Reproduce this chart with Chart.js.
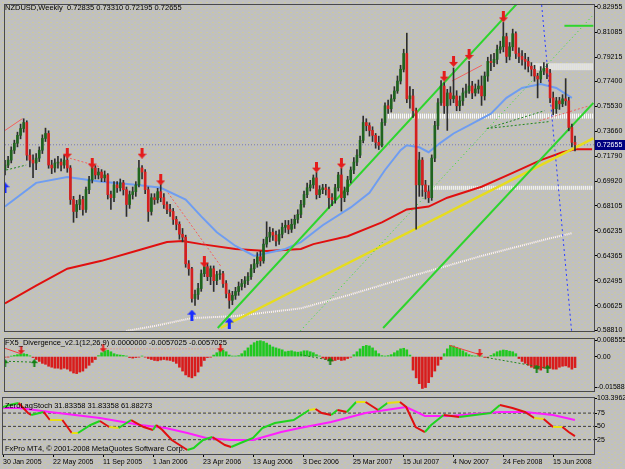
<!DOCTYPE html>
<html>
<head>
<meta charset="utf-8">
<script src="https://cdn.jsdelivr.net/npm/chart.js@4.4.0/dist/chart.umd.min.js"></script>
<style>
html, body { margin: 0; padding: 0; }
body {
  width: 625px; height: 469px; overflow: hidden; position: relative;
  background-color: #c0c0c0;
  background-image:
    radial-gradient(circle, rgba(218,214,110,0.55) 0.45px, transparent 0.8px),
    radial-gradient(circle, rgba(218,214,110,0.45) 0.45px, transparent 0.8px);
  background-size: 6px 5px, 6px 5px;
  background-position: 0 0, 3px 2px;
  font-family: "Liberation Sans", Arial, sans-serif;
}
canvas { position: absolute; left: 0; }
#main { top: 0; }
#divg { top: 334px; }
#stoch { top: 392px; }
.lbl { position: absolute; font-size: 7.5px; color: #000; white-space: pre; line-height: 9px; }
</style>
</head>
<body>
<canvas id="main" width="625" height="336"></canvas>
<canvas id="divg" width="625" height="62"></canvas>
<canvas id="stoch" width="625" height="77"></canvas>
<div class="lbl" style="left:5px;top:3px">NZDUSD,Weekly  0.72835 0.73310 0.72195 0.72655</div>
<div class="lbl" style="left:5px;top:338px">FX5_Divergence_v2.1(12,26,9) 0.0000000 -0.0057025 -0.0057025</div>
<div class="lbl" style="left:5px;top:401px">ZeroLagStoch 31.83358 31.83358 61.88273</div>
<div class="lbl" style="left:5px;top:444px">FxPro MT4, © 2001-2008 MetaQuotes Software Corp.</div>
<script>
// ---- weekly NZDUSD bars, 30 Jan 2005 .. Jul 2008 ----
const firstOpen = 0.7080;
const closes = [
  0.7114,0.7151,0.7225,0.7277,0.7336,0.7387,0.7432,0.7188,0.7151,0.7129,
  0.7166,0.7225,0.7313,0.7350,0.7114,0.7092,0.7129,0.7136,0.7114,0.7151,
  0.7092,0.6856,0.6767,0.6819,0.6856,0.6782,0.6930,0.7003,0.7092,0.7040,
  0.7062,0.7018,0.7040,0.6893,0.6870,0.6966,0.6944,0.6981,0.6930,0.6819,
  0.6893,0.6915,0.6966,0.7092,0.7062,0.6930,0.6767,0.6870,0.6856,0.6915,
  0.6870,0.6819,0.6782,0.6767,0.6708,0.6671,0.6597,0.6575,0.6376,0.6339,
  0.6117,0.6147,0.6191,0.6302,0.6354,0.6280,0.6339,0.6250,0.6295,0.6302,
  0.6228,0.6154,0.6103,0.6140,0.6169,0.6206,0.6228,0.6250,0.6280,0.6339,
  0.6376,0.6428,0.6398,0.6523,0.6575,0.6612,0.6590,0.6546,0.6597,0.6649,
  0.6664,0.6634,0.6671,0.6708,0.6745,0.6819,0.6893,0.6944,0.6966,0.7018,
  0.6893,0.6930,0.6944,0.6930,0.6870,0.6856,0.6944,0.7040,0.6870,0.6915,
  0.7003,0.7077,0.7136,0.7188,0.7299,0.7432,0.7409,0.7373,0.7336,0.7284,
  0.7262,0.7432,0.7557,0.7535,0.7609,0.7668,0.7742,0.7830,0.7948,0.7609,
  0.7631,0.7520,0.6966,0.7151,0.6966,0.6915,0.6870,0.7166,0.7409,0.7579,
  0.7705,0.7557,0.7653,0.7609,0.7631,0.7557,0.7594,0.7653,0.7668,0.7705,
  0.7653,0.7683,0.7705,0.7631,0.7779,0.7889,0.7880,0.7904,0.7978,0.7998,
  0.8074,0.7926,0.7998,0.8096,0.7948,0.7926,0.7904,0.7889,0.7853,0.7830,
  0.7779,0.7757,0.7816,0.7838,0.7801,0.7616,0.7535,0.7594,0.7572,0.7609,
  0.7594,0.7395,0.72835,0.72655
];
const highs = [
  0.7150,0.7180,0.7250,0.7300,0.7360,0.7420,0.7460,0.7445,0.7230,0.7190,
  0.7200,0.7250,0.7340,0.7390,0.7370,0.7150,0.7160,0.7180,0.7160,0.7190,
  0.7170,0.7110,0.6880,0.6850,0.6890,0.6880,0.6950,0.7030,0.7110,0.7110,
  0.7090,0.7080,0.7070,0.7050,0.6920,0.6990,0.6990,0.7010,0.7000,0.6950,
  0.6920,0.6950,0.6990,0.7150,0.7110,0.7080,0.6950,0.6900,0.6900,0.6940,
  0.6970,0.6900,0.6840,0.6820,0.6790,0.6730,0.6690,0.6640,0.6590,0.6400,
  0.6350,0.6180,0.6230,0.6330,0.6375,0.6380,0.6360,0.6360,0.6320,0.6330,
  0.6320,0.6250,0.6180,0.6170,0.6200,0.6240,0.6260,0.6280,0.6310,0.6370,
  0.6410,0.6460,0.6470,0.6560,0.6690,0.6650,0.6640,0.6620,0.6630,0.6680,
  0.6700,0.6700,0.6710,0.6740,0.6780,0.6850,0.6920,0.6980,0.7000,0.7040,
  0.7060,0.6960,0.6970,0.6970,0.6950,0.6900,0.6970,0.7060,0.7090,0.6950,
  0.7030,0.7100,0.7170,0.7230,0.7330,0.7480,0.7460,0.7430,0.7400,0.7350,
  0.7330,0.7460,0.7580,0.7600,0.7640,0.7700,0.7780,0.7860,0.7980,0.8100,
  0.7700,0.7680,0.7540,0.7210,0.7170,0.7000,0.6960,0.7190,0.7440,0.7610,
  0.7745,0.7730,0.7680,0.7700,0.7840,0.7670,0.7630,0.7690,0.7720,0.7890,
  0.7740,0.7720,0.7750,0.7780,0.7810,0.7920,0.7940,0.7950,0.8010,0.8040,
  0.8180,0.8100,0.8030,0.8130,0.8110,0.7990,0.7970,0.7950,0.7920,0.7880,
  0.7860,0.7800,0.7850,0.7880,0.7870,0.7830,0.7660,0.7620,0.7620,0.7640,
  0.7760,0.7620,0.7420,0.7331
];
const lows = [
  0.7040,0.7095,0.7130,0.7200,0.7250,0.7310,0.7360,0.7150,0.7100,0.7020,
  0.7080,0.7140,0.7200,0.7290,0.7090,0.7050,0.7060,0.7090,0.7070,0.7090,
  0.7060,0.6820,0.6686,0.6720,0.6780,0.6740,0.6760,0.6900,0.6980,0.7010,
  0.7010,0.6990,0.6990,0.6860,0.6782,0.6840,0.6910,0.6920,0.6890,0.6730,
  0.6790,0.6860,0.6880,0.6950,0.7010,0.6900,0.6693,0.6740,0.6820,0.6830,
  0.6840,0.6790,0.6750,0.6730,0.6670,0.6630,0.6560,0.6540,0.6350,0.6290,
  0.6090,0.6065,0.6110,0.6170,0.6280,0.6250,0.6220,0.6169,0.6220,0.6260,
  0.6200,0.6120,0.6043,0.6070,0.6110,0.6140,0.6180,0.6200,0.6220,0.6260,
  0.6310,0.6350,0.6360,0.6380,0.6500,0.6540,0.6550,0.6510,0.6520,0.6570,
  0.6610,0.6600,0.6610,0.6640,0.6680,0.6720,0.6800,0.6870,0.6920,0.6940,
  0.6860,0.6870,0.6900,0.6890,0.6790,0.6810,0.6830,0.6920,0.6770,0.6840,
  0.6890,0.6980,0.7050,0.7110,0.7170,0.7280,0.7370,0.7330,0.7290,0.7240,
  0.7230,0.7250,0.7410,0.7500,0.7510,0.7590,0.7650,0.7720,0.7810,0.7580,
  0.7540,0.7470,0.6634,0.6880,0.6880,0.6860,0.6834,0.6850,0.7140,0.7380,
  0.7560,0.7500,0.7373,0.7560,0.7580,0.7520,0.7520,0.7560,0.7620,0.7650,
  0.7610,0.7630,0.7650,0.7560,0.7600,0.7740,0.7820,0.7850,0.7870,0.7950,
  0.7960,0.7880,0.7900,0.7970,0.7910,0.7880,0.7860,0.7830,0.7810,0.7780,
  0.7740,0.7616,0.7730,0.7790,0.7760,0.7580,0.7490,0.7500,0.7530,0.7550,
  0.7560,0.7370,0.7250,0.72195
];
const lastPrice = 0.72655;
const priceTicks = [0.82955,0.81085,0.79215,0.77400,0.75530,0.73660,0.71790,0.69920,0.68105,0.66235,0.64365,0.62495,0.60625,0.58810];

// moving averages, read at a few bars
const blueMaIdx = [0,10,20,31,42,50,58,63,68,74,80,90,95,102,111,117,122,127,129,133,136,140,144,150,156,161,166,172,177,182];
const blueMaVal = [0.6804,0.6981,0.7025,0.6989,0.6966,0.6944,0.6856,0.6730,0.6612,0.6509,0.6435,0.6487,0.6538,0.6664,0.6797,0.6907,0.7077,0.7225,0.7262,0.7247,0.7210,0.7284,0.7350,0.7424,0.7498,0.7616,0.7690,0.7720,0.7690,0.7616];
const redMaIdx = [0,10,20,31,42,52,57,63,74,84,95,99,110,121,129,136,142,153,163,172,179,183,188.5];
const redMaVal = [0.6080,0.6213,0.6339,0.6398,0.6472,0.6538,0.6546,0.6523,0.6487,0.6472,0.6487,0.6523,0.6582,0.6686,0.6782,0.6804,0.6870,0.6952,0.7055,0.7151,0.7210,0.7232,0.7232];
const whiteMaIdx = [39,48,60,74,95,110,131,153,174,182];
const whiteMaVal = [0.5874,0.5911,0.5970,0.5985,0.6043,0.6140,0.6287,0.6435,0.6561,0.6605];

// drawn objects: [startIdx, startPrice, endIdx, endPrice]
const greenLineA = [68.3, 0.5896, 164.3, 0.8318];
const greenLineB = [121.4, 0.5896, 188.9, 0.7579];
const greenDotted = [94.8, 0.5874, 188.9, 0.8237];
const greenShort = [179.6, 0.8155, 188.9, 0.8155];
const yellowLine = [69.2, 0.5896, 188.9, 0.7314];
const blueDotted = [172.3, 0.8310, 181.9, 0.5874];
const redLine1 = [0, 0.7373, 5.6, 0.7461];
const redLine2 = [143.5, 0.7742, 153.1, 0.7860];
const redDash1 = [19.6, 0.7173, 30.8, 0.7099];
const redDash2 = [52.3, 0.6907, 69.2, 0.6361];
const redDash3 = [171.6, 0.7446, 187.6, 0.7557];
const greenDot1 = [0.4, 0.7077, 6.8, 0.7114];
const greenDot2 = [154.7, 0.7387, 174.8, 0.7439];
const greenDot3 = [154.7, 0.7387, 173.2, 0.7520];
// white support/resistance bands: [startIdx, endIdx, price]
const zoneTop = [168.4, 188.9, 0.7849];
const zoneMid = [123.0, 188.9, 0.7480];
const zoneLow = [133.0, 188.9, 0.6944];

// signal arrows
const sellIdx = [20,28,44,50,64,100,108,141,144,149,160];
const sellVal = [0.7203,0.7129,0.7203,0.7003,0.6390,0.7099,0.7129,0.7779,0.7889,0.7941,0.8222];
const buyIdx = [0,60,72];
const buyVal = [0.6944,0.5992,0.5933];

// FX5 divergence histogram
const hist = [
  -0.0003,-0.0002,0.0002,0.0006,0.0010,0.0013,0.0015,0.0012,0.0004,-0.0005,
  -0.0015,-0.0025,-0.0035,-0.0040,-0.0050,-0.0055,-0.0060,-0.0060,-0.0065,-0.0060,
  -0.0065,-0.0075,-0.0085,-0.0088,-0.0080,-0.0075,-0.0060,-0.0045,-0.0030,-0.0015,
  0.0005,0.0020,0.0030,0.0033,0.0025,0.0015,0.0010,0.0008,0.0006,0.0003,
  -0.0005,-0.0008,-0.0005,-0.0003,0.0003,-0.0003,-0.0010,-0.0015,-0.0020,-0.0022,
  -0.0018,-0.0015,-0.0018,-0.0020,-0.0025,-0.0035,-0.0055,-0.0075,-0.0095,-0.0105,
  -0.0110,-0.0100,-0.0080,-0.0050,-0.0020,-0.0005,-0.0003,0.0008,0.0020,0.0030,
  0.0034,0.0025,0.0008,0.0003,0.0003,0.0005,0.0015,0.0030,0.0045,0.0060,
  0.0072,0.0080,0.0082,0.0078,0.0070,0.0060,0.0050,0.0045,0.0040,0.0035,
  0.0025,0.0028,0.0030,0.0025,0.0023,0.0025,0.0030,0.0030,0.0025,0.0020,
  0.0010,0.0003,-0.0008,-0.0015,-0.0020,-0.0023,-0.0020,-0.0015,-0.0020,-0.0018,
  -0.0010,-0.0003,0.0010,0.0025,0.0040,0.0053,0.0058,0.0055,0.0045,0.0030,
  0.0015,0.0005,0.0003,0.0005,0.0010,0.0020,0.0030,0.0040,0.0043,0.0035,
  0.0008,-0.0070,-0.0110,-0.0140,-0.0165,-0.0160,-0.0135,-0.0105,-0.0075,-0.0045,
  -0.0015,0.0015,0.0040,0.0058,0.0055,0.0048,0.0040,0.0030,0.0020,0.0010,
  0.0005,0.0003,0.0005,0.0003,-0.0004,-0.0005,0.0006,0.0015,0.0025,0.0030,
  0.0034,0.0032,0.0028,0.0025,0.0015,-0.0010,-0.0025,-0.0035,-0.0045,-0.0055,
  -0.0060,-0.0065,-0.0070,-0.0060,-0.0055,-0.0060,-0.0065,-0.0065,-0.0055,-0.0050,
  -0.0048,-0.0055,-0.0065,-0.0057
];
const divTicks = [0.008555, 0, -0.01588];
const divTickLabels = ['0.008555', '0.00', '-0.01588'];
const divRedLine = [0, 0.0043, 5.2, 0.0014];
const divRedLine2 = [142.8, 0.0058, 152.4, 0.0010];
const divPinkDots = [31.0, 0.0040, 69.2, 0.0040];
const divGreenDash = [0, -0.0024, 9.4, -0.0029];
const divGreenDash2 = [94.8, 0.0010, 104.4, -0.0019];
const divGreenDots = [154.7, -0.0005, 174.8, -0.0062];
const divSellIdx = [5.2, 31.5, 69.2, 152.4];
const divSellVal = [0.0033, 0.0043, 0.0043, 0.0019];
const divBuyIdx = [0, 9.4, 104.4, 170.7, 174.2];
const divBuyVal = [-0.0034, -0.0034, -0.0024, -0.0062, -0.0062];

// ZeroLag stochastic
const stochIdx = [0,2,5,8,9,13,15,19,22,24,28,31,34,37,41,45,48,49,51,54,59,61,64,67,71,73,76,80,83,87,93,98,100,102,105,107,110,113,116,120,123,127,129,132,135,137,141,146,151,156,159,163,167,170,173,176,179,181,183];
const stochVal = [86.5,90.2,94.0,75.2,71.4,77.1,62.0,62.0,37.6,37.6,52.6,60.1,48.8,47.0,62.0,48.8,43.2,52.6,43.2,24.4,5.6,9.3,24.4,30.0,15.0,11.2,18.7,28.1,47.0,56.4,62.0,80.8,82.7,75.2,71.4,80.8,77.1,95.9,95.9,80.8,94.0,95.9,86.5,48.8,39.4,52.6,71.4,67.6,71.4,75.2,90.2,84.6,77.1,65.8,63.9,48.8,48.8,39.4,31.8];
const signalIdx = [0,5,15,31,44,52,59,65,73,80,89,95,105,116,129,135,143,159,167,176,183];
const signalVal = [84.6,84.6,77.1,65.8,52.6,47.0,37.6,28.1,24.4,24.4,39.4,47.0,58.2,75.2,86.5,69.5,69.5,77.1,77.1,71.4,61.9];
const stochLevels = [75, 50, 25];
const stochTicks = [103.3962, 75, 50, 25];
const stochTickLabels = ['103.3962', '75', '50', '25'];

const dateIdx = [0,16,32,48,64,80,96,112,128,144,160,176];
const dateLabels = ['30 Jan 2005','22 May 2005','11 Sep 2005','1 Jan 2006','23 Apr 2006','13 Aug 2006','3 Dec 2006','25 Mar 2007','15 Jul 2007','4 Nov 2007','24 Feb 2008','15 Jun 2008'];

// ---- helpers ----
const X_MIN = 0, X_MAX = 189.1;
const FONT = { family: '"Liberation Sans", Arial, sans-serif', size: 7 };
const pts = (xs, ys) => xs.map((x, i) => ({ x: x, y: ys[i] }));
const seg = s => [{ x: s[0], y: s[1] }, { x: s[2], y: s[3] }];
const band = z => [{ x: z[0], y: z[2] }, { x: z[1], y: z[2] }];

function line(data, color, width, dash, order) {
  return { type: 'line', data: data, borderColor: color, borderWidth: width, borderDash: dash || [],
    pointRadius: 0, fill: false, tension: 0, order: order };
}

function arrowImg(color, up) {
  const c = document.createElement('canvas');
  c.width = 9; c.height = 11;
  const g = c.getContext('2d');
  g.fillStyle = color;
  g.beginPath();
  if (up) {
    g.moveTo(4.5, 0); g.lineTo(9, 5); g.lineTo(6, 5); g.lineTo(6, 11); g.lineTo(3, 11); g.lineTo(3, 5); g.lineTo(0, 5);
  } else {
    g.moveTo(4.5, 11); g.lineTo(9, 6); g.lineTo(6, 6); g.lineTo(6, 0); g.lineTo(3, 0); g.lineTo(3, 6); g.lineTo(0, 6);
  }
  g.closePath(); g.fill();
  return c;
}
function smallArrow(color, up) {
  const c = document.createElement('canvas');
  c.width = 7; c.height = 8;
  const g = c.getContext('2d');
  g.fillStyle = color;
  g.beginPath();
  if (up) { g.moveTo(3.5, 0); g.lineTo(7, 4); g.lineTo(0, 4); } else { g.moveTo(3.5, 8); g.lineTo(7, 4); g.lineTo(0, 4); }
  g.closePath(); g.fill();
  g.fillRect(2.5, up ? 4 : 0, 2, 4);
  return c;
}

const frame = {
  id: 'frame',
  afterDraw(chart) {
    const a = chart.chartArea, ctx = chart.ctx;
    ctx.save();
    ctx.strokeStyle = '#4a4a4a';
    ctx.lineWidth = 1;
    ctx.strokeRect(a.left - 0.5, a.top - 0.5, a.right - a.left + 1, a.bottom - a.top + 1);
    ctx.restore();
  }
};

const priceTag = {
  id: 'priceTag',
  afterDraw(chart) {
    const y = Math.round(chart.scales.y.getPixelForValue(lastPrice));
    const ctx = chart.ctx, r = chart.chartArea.right;
    ctx.save();
    ctx.fillStyle = '#000080';
    ctx.fillRect(r + 1, y - 5, 31, 10);
    ctx.fillStyle = '#ffffff';
    ctx.font = '7px "Liberation Sans", Arial, sans-serif';
    ctx.textBaseline = 'middle';
    ctx.fillText(lastPrice.toFixed(5), r + 3, y + 0.5);
    ctx.restore();
  }
};

function rightAxis(min, max, ticks, labels) {
  return {
    position: 'right', min: min, max: max,
    afterBuildTicks: s => { s.ticks = ticks.map(v => ({ value: v })); },
    afterFit: s => { s.width = 31; },
    ticks: { font: FONT, color: '#000', padding: 0, autoSkip: false,
      callback: (v) => { const k = ticks.indexOf(v); return k >= 0 ? labels[k] : ''; } },
    grid: { drawOnChartArea: false, tickLength: 3, color: '#000' },
    border: { color: '#303030' }
  };
}

const baseOpts = {
  responsive: false, animation: false, devicePixelRatio: 1,
  plugins: { legend: { display: false }, tooltip: { enabled: false } }
};

// ---- main price panel ----
const opens = closes.map((c, i) => i === 0 ? firstOpen : closes[i - 1]);
const isUp = closes.map((c, i) => c >= opens[i]);

new Chart(document.getElementById('main'), {
  type: 'bar',
  data: {
    datasets: [
      { type: 'scatter', data: pts(sellIdx, sellVal), pointStyle: arrowImg('#e41c1c', false), order: 1 },
      { type: 'scatter', data: pts(buyIdx, buyVal), pointStyle: arrowImg('#1a2cff', true), order: 1 },
      { type: 'bar', data: closes.map((c, i) => ({ x: i, y: [opens[i], c] })), grouped: false,
        barThickness: 2, backgroundColor: isUp.map(u => u ? '#1f641f' : '#d42020'), order: 3 },
      { type: 'bar', data: lows.map((l, i) => ({ x: i, y: [l, highs[i]] })), grouped: false,
        barThickness: 1, backgroundColor: '#2e2e2e', order: 4 },
      line(seg(greenLineA), '#2ed42e', 2, null, 6),
      line(seg(greenLineB), '#2ed42e', 2, null, 6),
      line(seg(greenShort), '#2ed42e', 2, null, 6),
      line(seg(greenDotted), '#30d830', 1, [1, 3], 6),
      line(seg(yellowLine), '#e6dc1e', 2.5, null, 6),
      line(seg(blueDotted), '#2a3cff', 1, [2, 3], 6),
      line(seg(redLine1), '#f06060', 1, null, 6),
      line(seg(redLine2), '#f06060', 1, null, 6),
      line(seg(redDash1), '#f06060', 1, [2, 2], 6),
      line(seg(redDash2), '#f06060', 1, [2, 2], 6),
      line(seg(redDash3), '#f06060', 1, [2, 2], 6),
      line(seg(greenDot1), '#208020', 1, [2, 2], 6),
      line(seg(greenDot2), '#208020', 1, [2, 2], 6),
      line(seg(greenDot3), '#208020', 1, [2, 2], 6),
      line(pts(blueMaIdx, blueMaVal), '#6f9df0', 2, null, 7),
      line(pts(redMaIdx, redMaVal), '#e01010', 2, null, 7),
      line(pts(whiteMaIdx, whiteMaVal), '#fff4f4', 2, [1, 1], 7),
      line(band(zoneTop), '#ffffff', 7, [1, 1], 8),
      line(band(zoneMid), '#ffffff', 5, [1, 1], 8),
      line(band(zoneLow), '#ffffff', 4, [1, 1], 8),
      line([{ x: X_MIN, y: lastPrice }, { x: X_MAX, y: lastPrice }], '#7c7ca4', 1, [1, 2], 9)
    ]
  },
  options: Object.assign({}, baseOpts, {
    layout: { padding: { left: 3, top: 3, bottom: 3, right: 0 } },
    scales: {
      x: { type: 'linear', min: X_MIN, max: X_MAX, offset: false, display: false },
      y: rightAxis(0.58736, 0.83104, priceTicks, priceTicks.map(v => v.toFixed(5)))
    }
  }),
  plugins: [frame, priceTag]
});

// ---- FX5 divergence panel ----
new Chart(document.getElementById('divg'), {
  type: 'bar',
  data: {
    datasets: [
      { type: 'scatter', data: pts(divSellIdx, divSellVal), pointStyle: smallArrow('#e41c1c', false), order: 1 },
      { type: 'scatter', data: pts(divBuyIdx, divBuyVal), pointStyle: smallArrow('#108010', true), order: 1 },
      line(seg(divRedLine), '#f04040', 1, null, 2),
      line(seg(divRedLine2), '#f04040', 1, null, 2),
      line(seg(divPinkDots), '#f08080', 1, [1, 2], 2),
      line(seg(divGreenDash), '#208020', 1, [2, 2], 2),
      line(seg(divGreenDash2), '#208020', 1, [2, 2], 2),
      line(seg(divGreenDots), '#208020', 1, [2, 2], 2),
      { type: 'bar', data: hist.map((v, i) => ({ x: i, y: v })), grouped: false, barThickness: 2,
        backgroundColor: hist.map(v => v >= 0 ? '#20c820' : '#d81c1c'), order: 3 }
    ]
  },
  options: Object.assign({}, baseOpts, {
    layout: { padding: { left: 3, top: 4, bottom: 2, right: 0 } },
    scales: {
      x: { type: 'linear', min: X_MIN, max: X_MAX, offset: false, display: false },
      y: rightAxis(-0.0178, 0.0091, divTicks, divTickLabels)
    }
  }),
  plugins: [frame]
});

// ---- ZeroLag stochastic panel ----
const levelSets = stochLevels.map(v => line([{ x: X_MIN, y: v }, { x: X_MAX, y: v }], '#3c3c3c', 1, [3, 2], 5));
new Chart(document.getElementById('stoch'), {
  type: 'line',
  data: {
    datasets: [
      { data: pts(stochIdx, stochVal), borderWidth: 2, pointRadius: 0, tension: 0, order: 1,
        segment: { borderColor: c => {
          const d = c.p1.parsed.y - c.p0.parsed.y;
          return Math.abs(d) < 2.5 ? '#e8e010' : (d > 0 ? '#1ed41e' : '#e01010');
        } } },
      line(pts(signalIdx, signalVal), '#ff1eff', 2, null, 2)
    ].concat(levelSets)
  },
  options: Object.assign({}, baseOpts, {
    layout: { padding: { left: 3, top: 6, bottom: 0, right: 0 } },
    scales: {
      x: { type: 'linear', min: X_MIN, max: X_MAX, offset: false,
        afterBuildTicks: s => { s.ticks = dateIdx.map(v => ({ value: v })); },
        afterFit: s => { s.height = 15; },
        ticks: { font: FONT, color: '#000', align: 'start', maxRotation: 0, autoSkip: false, padding: 1,
          callback: v => { const k = dateIdx.indexOf(v); return k >= 0 ? dateLabels[k] : ''; } },
        grid: { drawOnChartArea: false, tickLength: 3, color: '#000' },
        border: { color: '#303030' } },
      y: rightAxis(-1.95, 103.3962, stochTicks, stochTickLabels)
    }
  }),
  plugins: [frame]
});
</script>
</body>
</html>
